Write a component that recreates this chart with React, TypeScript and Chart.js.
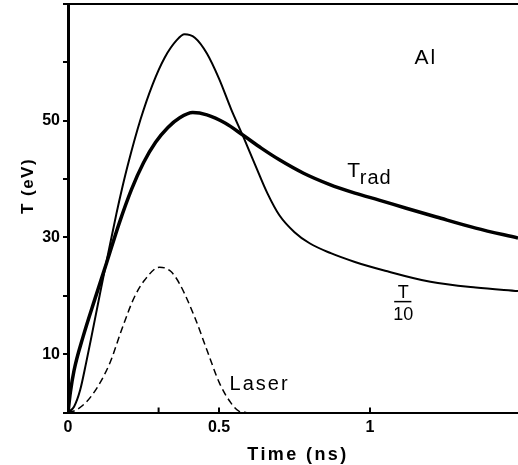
import { useEffect, useRef } from 'react';
import { Chart, registerables } from 'chart.js';

Chart.register(...registerables);

// Radiation temperature T_rad (eV) against time (ns)
const tradTime = [0, 0.008, 0.02, 0.05, 0.09, 0.13, 0.17, 0.21, 0.25, 0.29, 0.33, 0.37, 0.413, 0.46, 0.52, 0.58, 0.64, 0.7, 0.78, 0.865, 0.95, 1.03, 1.12, 1.22, 1.35, 1.49];
const tradTemp = [0, 3.5, 7.2, 13.0, 19.6, 26.0, 32.5, 38.2, 42.8, 46.3, 48.8, 50.5, 51.4, 51.0, 49.6, 47.5, 45.3, 43.3, 41.0, 39.1, 37.6, 36.4, 35.0, 33.5, 31.6, 29.9];

// Electron temperature divided by ten, T/10 (eV)
const tempTime = [0, 0.02, 0.04, 0.06, 0.08, 0.1, 0.12, 0.14, 0.16, 0.18, 0.2, 0.24, 0.28, 0.32, 0.36, 0.386, 0.42, 0.46, 0.5, 0.54, 0.58, 0.62, 0.66, 0.7, 0.75, 0.8, 0.87, 0.95, 1.05, 1.2, 1.35, 1.49];
const tempOver10 = [0, 1.0, 3.8, 8.5, 13.6, 18.8, 24.0, 29.0, 34.0, 38.6, 42.8, 50.2, 56.2, 60.8, 63.8, 64.8, 64.2, 61.5, 57.2, 52.0, 47.3, 42.4, 37.6, 33.8, 30.9, 29.0, 27.3, 25.8, 24.3, 22.4, 21.4, 20.8];

// Laser pulse shape (arbitrary units on the same axis)
const laserTime = [0, 0.03, 0.08, 0.138, 0.177, 0.22, 0.254, 0.303, 0.34, 0.369, 0.419, 0.46, 0.502, 0.54, 0.567, 0.59];
const laserPower = [0, 0.5, 3, 8.4, 14.1, 19.8, 22.7, 24.9, 24.2, 22.1, 16.4, 10.7, 5, 1.6, 0.2, 0];

// Axis ticks
const xTickValues = [0, 0.3, 0.5, 1];
const xTickLabels = ['0', '', '0.5', '1'];
const yTickLabels = [10, 30, 50];

const FONT = '"Liberation Sans", Arial, sans-serif';

const toPoints = (t: number[], v: number[]) => t.map((x, i) => ({ x, y: v[i] }));

const decorations = {
  id: 'decorations',
  afterDraw(chart: any) {
    const { ctx, chartArea: a, scales } = chart;
    const xs = scales.x;
    const ys = scales.y;
    ctx.save();
    ctx.strokeStyle = '#000';
    ctx.fillStyle = '#000';

    // top frame line
    ctx.lineWidth = 2;
    ctx.beginPath();
    ctx.moveTo(a.left - 1.5, a.top);
    ctx.lineTo(a.right, a.top);
    ctx.stroke();

    // inward ticks on the time axis
    ctx.lineWidth = 2;
    for (const tk of xs.ticks) {
      if (tk.value === 0) continue;
      const px = xs.getPixelForValue(tk.value);
      ctx.beginPath();
      ctx.moveTo(px, a.bottom);
      ctx.lineTo(px, a.bottom - 5);
      ctx.stroke();
    }

    const label = (s: string, t: number, v: number, size: number, weight = 'normal', spacing = 0, align: CanvasTextAlign = 'left') => {
      ctx.font = `${weight} ${size}px ${FONT}`;
      (ctx as any).letterSpacing = `${spacing}px`;
      ctx.textAlign = align;
      ctx.textBaseline = 'alphabetic';
      ctx.fillText(s, xs.getPixelForValue(t), ys.getPixelForValue(v));
    };

    label('Al', 1.147, 59.8, 21, 'normal', 2);
    label('T', 0.925, 40.3, 21, 'normal', 0);
    label('rad', 0.966, 39.1, 20, 'normal', 1);
    label('T', 1.11, 19.6, 18, 'normal', 0, 'center');
    label('10', 1.11, 15.8, 18, 'normal', 0, 'center');
    // fraction bar
    ctx.lineWidth = 1.5;
    ctx.beginPath();
    const barY = ys.getPixelForValue(19.0);
    ctx.moveTo(xs.getPixelForValue(1.08), barY);
    ctx.lineTo(xs.getPixelForValue(1.137), barY);
    ctx.stroke();
    label('Laser', 0.535, 3.85, 20, 'normal', 2);

    // axis titles
    ctx.font = `bold 18px ${FONT}`;
    (ctx as any).letterSpacing = '2.4px';
    ctx.textAlign = 'center';
    ctx.textBaseline = 'alphabetic';
    ctx.fillText('Time (ns)', 298, 460);

    ctx.translate(33, 186);
    ctx.rotate(-Math.PI / 2);
    ctx.font = `bold 17px ${FONT}`;
    (ctx as any).letterSpacing = '1.5px';
    ctx.fillText('T (eV)', 0, 0);
    ctx.restore();
  },
};

export default function App() {
  const ref = useRef<HTMLCanvasElement>(null);

  useEffect(() => {
    if (!ref.current) return;
    const chart = new Chart(ref.current, {
      type: 'line',
      data: {
        datasets: [
          {
            label: 'T_rad',
            data: toPoints(tradTime, tradTemp),
            borderColor: '#000',
            borderWidth: 3.5,
            pointRadius: 0,
            cubicInterpolationMode: 'monotone',
          },
          {
            label: 'T/10',
            data: toPoints(tempTime, tempOver10),
            borderColor: '#000',
            borderWidth: 2,
            pointRadius: 0,
            cubicInterpolationMode: 'monotone',
          },
          {
            label: 'Laser',
            data: toPoints(laserTime, laserPower),
            borderColor: '#000',
            borderWidth: 1.5,
            borderDash: [7, 4],
            pointRadius: 0,
            cubicInterpolationMode: 'monotone',
          },
        ],
      },
      options: {
        animation: false,
        responsive: false,
        parsing: false,
        layout: { padding: { top: 4, right: 0, left: 0, bottom: 0 } },
        plugins: { legend: { display: false }, tooltip: { enabled: false } },
        scales: {
          x: {
            type: 'linear',
            min: 0,
            max: 1.49,
            grid: { display: false, drawTicks: false },
            border: { display: true, color: '#000', width: 2 },
            afterBuildTicks: (s: any) => {
              s.ticks = xTickValues.map((value) => ({ value }));
            },
            ticks: {
              autoSkip: false,
              maxRotation: 0,
              padding: 5,
              color: '#000',
              font: { family: FONT, size: 16, weight: 'bold' },
              callback: (v: any) => {
                const i = xTickValues.indexOf(Number(v));
                return i >= 0 ? xTickLabels[i] : '';
              },
            },
            afterFit: (s: any) => {
              s.height = 52.5;
              s.paddingLeft = 0;
              s.paddingRight = 0;
            },
          },
          y: {
            type: 'linear',
            min: 0,
            max: 70,
            grid: { drawOnChartArea: false, drawTicks: true, tickLength: 5, color: '#000', lineWidth: 2 },
            border: { display: true, color: '#000', width: 3 },
            ticks: {
              stepSize: 10,
              padding: 3,
              color: '#000',
              font: { family: FONT, size: 16, weight: 'bold' },
              callback: (v: any) => (yTickLabels.includes(Number(v)) ? String(v) : ''),
            },
            afterFit: (s: any) => {
              s.width = 68;
              s.paddingTop = 0;
              s.paddingBottom = 0;
            },
          },
        },
      },
      plugins: [decorations],
    } as any);
    return () => chart.destroy();
  }, []);

  return (
    <div style={{ position: 'fixed', left: 0, top: 0, width: 518, height: 465, background: '#fff' }}>
      <canvas ref={ref} width={518} height={465} style={{ display: 'block' }} />
    </div>
  );
}
